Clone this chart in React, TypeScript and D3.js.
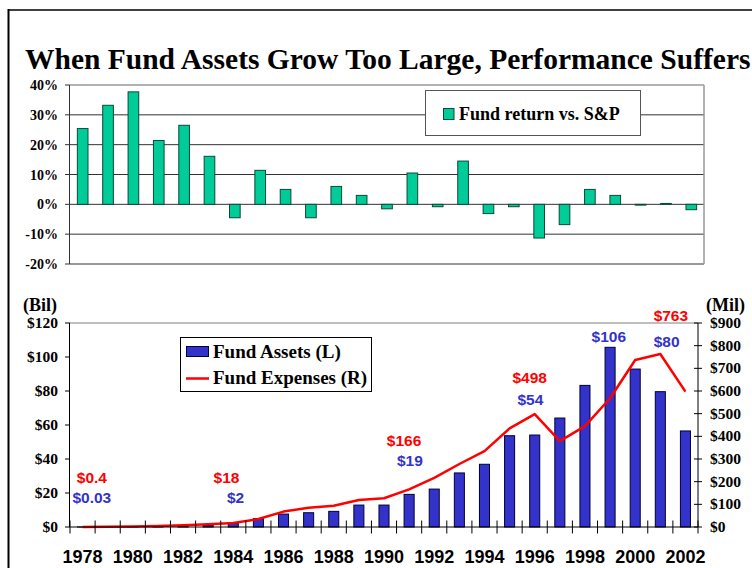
import React from "react";
import * as d3 from "d3";

const years = ["1978","1979","1980","1981","1982","1983","1984","1985","1986","1987","1988","1989","1990","1991","1992","1993","1994","1995","1996","1997","1998","1999","2000","2001","2002"];
const fundReturnVsSP = [25.4, 33.2, 37.7, 21.4, 26.5, 16.1, -4.5, 11.4, 5.0, -4.5, 6.0, 3.0, -1.5, 10.5, -0.8, 14.5, -3.1, -0.8, -11.3, -6.8, 5.0, 3.0, -0.2, 0.3, -1.8];
const fundAssetsBil = [0.03, 0.05, 0.1, 0.2, 0.5, 1.0, 2, 4.9, 7.6, 8.4, 9.2, 12.9, 12.9, 19.2, 22.3, 31.8, 36.9, 53.7, 54.1, 64.1, 83.3, 105.7, 92.9, 79.6, 56.5];
const fundExpensesMil = [0.4, 1, 2, 4, 8, 12, 18, 35, 68, 85, 94, 119, 127, 166, 217, 278, 335, 435, 498, 379, 445, 568, 737, 763, 597];
const topTicks = [-20, -10, 0, 10, 20, 30, 40];
const leftTicks = [0, 20, 40, 60, 80, 100, 120];
const rightTicks = [0, 100, 200, 300, 400, 500, 600, 700, 800, 900];
const xLabelYears = ["1978","1980","1982","1984","1986","1988","1990","1992","1994","1996","1998","2000","2002"];
// annotations: category, horizontal shift in category widths, level in left-axis units (Bil), text, series
const annotationYears = ["1978","1978","1984","1984","1991","1991","1996","1996","1999","2001","2001"];
const annotationShift = [0.37, 0.37, -0.27, 0.09, -0.2, 0.03, -0.2, -0.17, -0.05, 0.42, 0.25];
const annotationLevel = [25.9, 14.1, 25.9, 14.1, 47.6, 35.9, 84.7, 71.8, 109, 121.4, 106.1];
const annotationText = ["$0.4","$0.03","$18","$2","$166","$19","$498","$54","$106","$763","$80"];
const annotationSeries = ["exp","assets","exp","assets","exp","assets","exp","assets","assets","exp","assets"];

const SERIF = "'Liberation Serif', 'Times New Roman', serif";
const SANS = "'Liberation Sans', Arial, sans-serif";
const GREEN = "#00CC99";
const BLUE = "#3333CC";
const RED = "#FF0000";

export default function App() {
  const W = 752, H = 568;
  // top chart
  const xTop = d3.scaleBand<string>().domain(years).range([70, 704]);
  const yTop = d3.scaleLinear().domain([-20, 40]).range([264, 85]);
  const topBarW = xTop.bandwidth() * 0.42;
  // bottom chart
  const xBot = d3.scaleBand<string>().domain(years).range([70, 698]);
  const yL = d3.scaleLinear().domain([0, 120]).range([527, 323]);
  const yR = d3.scaleLinear().domain([0, 900]).range([527, 323]);
  const botBarW = xBot.bandwidth() * 0.4;
  const cx = (y: string) => (xBot(y) as number) + xBot.bandwidth() / 2;
  const line = d3.line<number>()
    .x((_, i) => cx(years[i]))
    .y((d) => yR(d));

  return (
    <svg width={W} height={H} style={{ position: "absolute", left: 0, top: 0, background: "#fff" }}>
      <rect x={0} y={0} width={W} height={H} fill="#fff" />
      {/* frame */}
      <line x1={8.5} y1={9} x2={8.5} y2={H} stroke="#000" strokeWidth={2} />
      <line x1={8} y1={10} x2={W} y2={10} stroke="#000" strokeWidth={1.5} />
      {/* title */}
      <text x={25} y={69} fontFamily={SERIF} fontWeight="bold" fontSize={29.5} fill="#000">
        When Fund Assets Grow Too Large, Performance Suffers
      </text>

      {/* ===== top chart ===== */}
      {topTicks.map((t) => (
        <line key={"tg" + t} x1={70} x2={704} y1={yTop(t)} y2={yTop(t)}
          stroke={t === 40 ? "#999" : "#333"} strokeWidth={t === 40 ? 1.5 : 1} />
      ))}
      <line x1={704} x2={704} y1={yTop(40)} y2={yTop(-20)} stroke="#999" strokeWidth={1.5} />
      <line x1={69.5} x2={69.5} y1={yTop(40)} y2={yTop(-20)} stroke="#333" strokeWidth={1} />
      {topTicks.map((t) => (
        <g key={"tt" + t}>
          <line x1={65} x2={70} y1={yTop(t)} y2={yTop(t)} stroke="#333" />
          <text x={58} y={yTop(t) + 5} textAnchor="end" fontFamily={SERIF} fontWeight="bold" fontSize={14} fill="#000">
            {t + "%"}
          </text>
        </g>
      ))}
      {fundReturnVsSP.map((v, i) => {
        const c = (xTop(years[i]) as number) + xTop.bandwidth() / 2;
        const y0 = yTop(Math.max(0, v));
        const h = Math.abs(yTop(v) - yTop(0));
        return (
          <rect key={"tb" + i} x={c - topBarW / 2} y={y0} width={topBarW} height={Math.max(h, 0.8)}
            fill={GREEN} stroke="#0b4a35" strokeWidth={1} />
        );
      })}
      {/* top legend */}
      <rect x={425.5} y={90.5} width={215} height={45} fill="#fff" stroke="#555" strokeWidth={1} />
      <rect x={443.5} y={108.5} width={10.5} height={11} fill={GREEN} stroke="#0b4a35" strokeWidth={1} />
      <text x={459} y={119.5} fontFamily={SERIF} fontWeight="bold" fontSize={18} fill="#000">Fund return vs. S&amp;P</text>

      {/* ===== bottom chart ===== */}
      <line x1={70} x2={698} y1={yL(120)} y2={yL(120)} stroke="#aaa" strokeWidth={1.5} />
      {fundAssetsBil.map((v, i) => {
        const c = cx(years[i]);
        const h = yL(0) - yL(v);
        return (
          <rect key={"bb" + i} x={c - botBarW / 2} y={yL(v)} width={botBarW} height={h}
            fill={BLUE} stroke="#000033" strokeWidth={1} />
        );
      })}
      <path d={line(fundExpensesMil) || ""} fill="none" stroke={RED} strokeWidth={2.5} strokeLinejoin="round" />
      {/* axes */}
      <line x1={69.5} x2={69.5} y1={yL(120)} y2={yL(0)} stroke="#000" strokeWidth={1} />
      <line x1={698} x2={698} y1={yR(900)} y2={yR(0)} stroke="#000" strokeWidth={1} />
      <line x1={69.5} x2={698} y1={yL(0)} y2={yL(0)} stroke="#000" strokeWidth={1} />
      {years.map((y, i) => (
        <line key={"xt" + i} x1={xBot(y) as number} x2={xBot(y) as number} y1={yL(0) - 6.5} y2={yL(0) + 6.5} stroke="#000" />
      ))}
      <line x1={698} x2={698} y1={yL(0) - 6.5} y2={yL(0) + 6.5} stroke="#000" />
      {leftTicks.map((t) => (
        <g key={"lt" + t}>
          <line x1={65} x2={70} y1={yL(t)} y2={yL(t)} stroke="#000" />
          <text x={58} y={yL(t) + 5} textAnchor="end" fontFamily={SERIF} fontWeight="bold" fontSize={15.5} fill="#000">
            {"$" + t}
          </text>
        </g>
      ))}
      {rightTicks.map((t) => (
        <g key={"rt" + t}>
          <line x1={694} x2={702} y1={yR(t)} y2={yR(t)} stroke="#000" />
          <text x={710} y={yR(t) + 5} textAnchor="start" fontFamily={SERIF} fontWeight="bold" fontSize={15.5} fill="#000">
            {"$" + t}
          </text>
        </g>
      ))}
      <text x={23} y={311} fontFamily={SERIF} fontWeight="bold" fontSize={18} fill="#000">(Bil)</text>
      <text x={706} y={311} fontFamily={SERIF} fontWeight="bold" fontSize={18} fill="#000">(Mil)</text>
      {xLabelYears.map((y) => (
        <text key={"xl" + y} x={cx(y)} y={563} textAnchor="middle" fontFamily={SANS} fontWeight="bold" fontSize={18} fill="#000">
          {y}
        </text>
      ))}
      {/* annotations */}
      {annotationText.map((t, i) => (
        <text key={"an" + i} x={cx(annotationYears[i]) + annotationShift[i] * xBot.bandwidth()} y={yL(annotationLevel[i])}
          textAnchor="middle" fontFamily={SANS} fontWeight="bold" fontSize={15.5}
          fill={annotationSeries[i] === "exp" ? RED : BLUE}>
          {t}
        </text>
      ))}
      {/* bottom legend */}
      <rect x={180.5} y={337.5} width={191} height={54} fill="#fff" stroke="#000" strokeWidth={1} />
      <rect x={186.5} y={346.5} width={22} height={10} fill={BLUE} stroke="#000033" strokeWidth={1} />
      <text x={213} y={358} fontFamily={SERIF} fontWeight="bold" fontSize={19} fill="#000">Fund Assets (L)</text>
      <line x1={186} x2={209} y1={378.5} y2={378.5} stroke={RED} strokeWidth={2.5} />
      <text x={213} y={384} fontFamily={SERIF} fontWeight="bold" fontSize={19} fill="#000">Fund Expenses (R)</text>
    </svg>
  );
}
